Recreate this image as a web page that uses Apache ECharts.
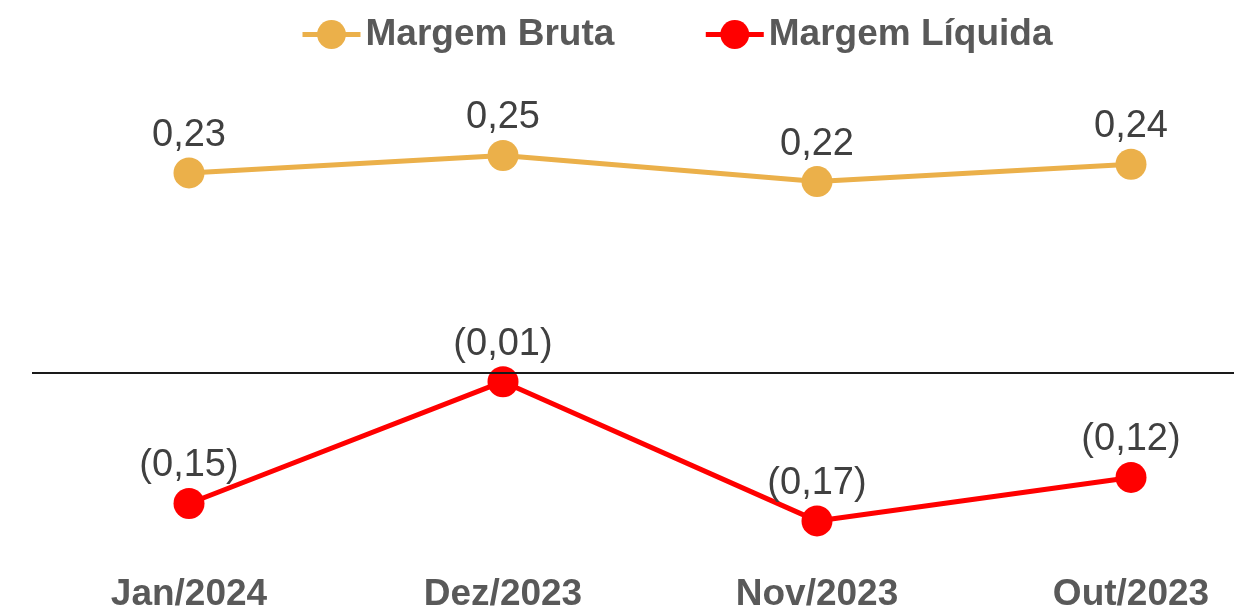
<!DOCTYPE html>
<html>
<head>
<meta charset="utf-8">
<script src="https://cdn.jsdelivr.net/npm/echarts@6/dist/echarts.min.js"></script>
<style>
    html, body { margin: 0; padding: 0; background: #fff; }
    #main { width: 1234px; height: 608px; }
</style>
</head>
<body>
<div id="main"></div>
<script>
// dados
var meses = ['Jan/2024', 'Dez/2023', 'Nov/2023', 'Out/2023'];
var margemBruta = [0.23, 0.25, 0.22, 0.24];
var margemLiquida = [-0.15, -0.01, -0.17, -0.12];

function fmt(v) {
    var s = Math.abs(v).toFixed(2).replace('.', ',');
    return v < 0 ? '(' + s + ')' : s;
}

var chartDom = document.getElementById('main');
var myChart = echarts.init(chartDom);
var option;

var rotulo = {
    show: true,
    position: 'top',
    distance: 3,
    fontFamily: 'Liberation Sans',
    fontSize: 38,
    color: '#404040',
    formatter: function (p) { return fmt(p.value); }
};

option = {
    animation: false,
    legend: {
        left: 295,
        top: 11,
        itemWidth: 58,
        itemHeight: 36,
        itemGap: 89,
        lineStyle: { width: 5 },
        textStyle: {
            fontFamily: 'Liberation Sans',
            fontSize: 37,
            fontWeight: 'bold',
            color: '#595959'
        },
        data: ['Margem Bruta', 'Margem Líquida']
    },
    grid: {
        left: 32,
        top: 112,
        width: 1256,
        height: 435,
        outerBoundsMode: 'none'
    },
    xAxis: {
        type: 'category',
        data: meses,
        axisLine: { show: false, onZero: false },
        axisTick: { show: false },
        axisLabel: {
            margin: 29,
            fontFamily: 'Liberation Sans',
            fontSize: 37,
            fontWeight: 'bold',
            color: '#595959'
        }
    },
    yAxis: {
        type: 'value',
        min: -0.2,
        max: 0.3,
        show: false,
        splitLine: { show: false }
    },
    series: [
        {
            name: 'Margem Bruta',
            type: 'line',
            data: margemBruta,
            symbol: 'circle',
            symbolSize: 31,
            color: '#EBB04A',
            lineStyle: { width: 5, color: '#EBB04A' },
            label: rotulo
        },
        {
            name: 'Margem Líquida',
            type: 'line',
            data: margemLiquida,
            symbol: 'circle',
            symbolSize: 31,
            color: '#FF0000',
            lineStyle: { width: 5, color: '#FF0000' },
            label: rotulo,
            markLine: {
                silent: true,
                symbol: 'none',
                label: { show: false },
                lineStyle: { type: 'solid', color: '#1a1a1a', width: 2 },
                data: [{ yAxis: 0 }]
            }
        }
    ]
};

option && myChart.setOption(option);
</script>
</body>
</html>
